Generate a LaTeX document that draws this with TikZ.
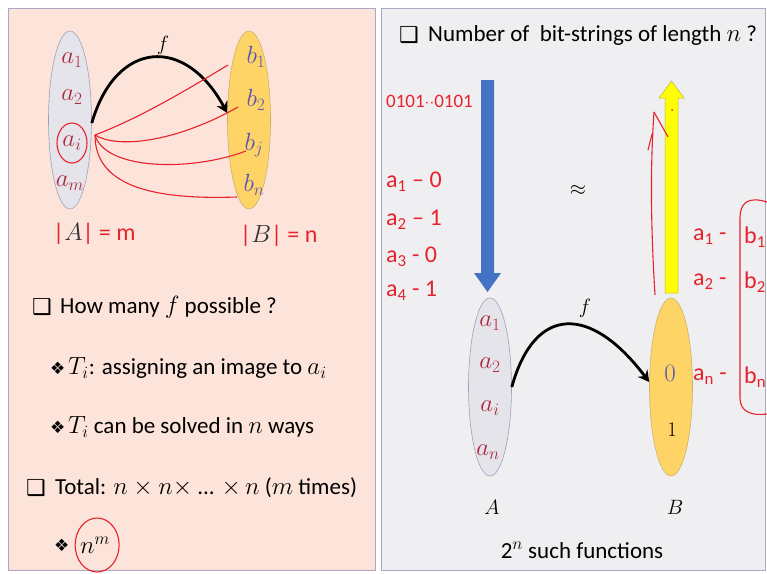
\documentclass[tikz,border=0pt]{standalone}
\usepackage{fontspec}
\setmainfont{Carlito}
\newfontfamily\symfont{DejaVu Sans}
\usepackage{tikz}
\usetikzlibrary{shapes.geometric, arrows.meta}

\definecolor{pinkbg}{HTML}{FDE4DA}
\definecolor{graybg}{HTML}{EFEFF2}
\definecolor{frameline}{HTML}{A9A9C2}
\definecolor{setgray}{HTML}{E4E4EA}
\definecolor{setgold}{HTML}{FFD466}
\definecolor{setedge}{HTML}{A0A0B8}
\definecolor{elemred}{HTML}{B0283C}
\definecolor{elempurple}{HTML}{5B55B5}
\definecolor{hand}{HTML}{E8222C}
\definecolor{barblue}{HTML}{4472C4}
\definecolor{baryellow}{HTML}{FFFF00}

\tikzset{
    panel/.style={draw=frameline, line width=0.8pt},
    setbox/.style={ellipse, minimum width=43pt, minimum height=178pt, inner sep=0pt, line width=0.6pt},
    setdom/.style={setbox, fill=setgray, draw=setedge},
    setcod/.style={setbox, fill=setgold, draw=setgold!60!gray},
    elem/.style={font=\fontsize{23}{23}\selectfont, text=elemred},
    imgel/.style={font=\fontsize{23}{23}\selectfont, text=elempurple},
    setname/.style={font=\fontsize{22}{22}\selectfont},
    fmap/.style={line width=2.8pt, -{Stealth[length=11pt, width=12pt]}},
    ink/.style={draw=hand, line width=1.1pt},
    inktext/.style={text=hand, font=\fontsize{24}{24}\selectfont, inner sep=0pt, anchor=west},
    textline/.style={anchor=west, inner sep=0pt, font=\fontsize{23}{23}\selectfont},
    boxsym/.style={anchor=west, inner sep=0pt, font=\symfont\fontsize{22}{22}\selectfont},
    diasym/.style={anchor=west, inner sep=0pt, font=\symfont\fontsize{17}{17}\selectfont}
}

\begin{document}
\begin{tikzpicture}[x=1pt, y=-1pt]
    \useasboundingbox (0,0) rectangle (767,573);
    \fill[white] (0,0) rectangle (767,573);
    % two slide panels
    \filldraw[panel, fill=pinkbg] (8,8) rectangle (375,570);
    \filldraw[panel, fill=graybg] (381,8) rectangle (765,570);

    % left: f from A (m elements) to B (n elements)
    \node (setA) [setdom] at (70,120) {};
    \node (setB) [setcod] at (249,120) {};
    \node (a1) [elem] at (72,60) {$a_1$};
    \node (a2) [elem] at (72,97) {$a_2$};
    \node (ai) [elem] at (72,143) {$a_i$};
    \node (am) [elem] at (70,183) {$a_m$};
    \node (b1) [imgel] at (256,57) {$b_1$};
    \node (b2) [imgel] at (256,100) {$b_2$};
    \node (bj) [imgel] at (254,145) {$b_j$};
    \node (bn) [imgel] at (254,185) {$b_n$};
    \node (fleft) [setname] at (163,45) {$f$};
    \draw [fmap] ([yshift=-3pt]setA.east) .. controls +(24,-83) and +(-42,-78) .. ([yshift=7pt]setB.west);

    % handwritten choices for a_i
    \coordinate (aiout) at (95,135);
    \coordinate (b1in) at (228,65);
    \coordinate (b2in) at (238,107);
    \coordinate (bjin) at (246,151);
    \coordinate (bnin) at (237,197);
    \draw [ink] (aiout) .. controls (140,118) and (190,88) .. (b1in);
    \draw [ink] (aiout) .. controls (120,150) and (180,140) .. (b2in);
    \draw [ink] (aiout) .. controls (105,170) and (190,172) .. (bjin);
    \draw [ink] (aiout) .. controls (95,185) and (150,200) .. (bnin);
    \draw [ink] (ai) ellipse [x radius=15pt, y radius=20pt];
    \node (cardA) [inktext] at (53,234) {|\textcolor{black!80}{$A$}| = m};
    \node (cardB) [inktext] at (240,236) {|\textcolor{black!80}{$B$}| = n};

    % left text
    \node (q1box) [boxsym] at (32,307) {❑};
    \node (q1) [textline] at (60,307) {How many $f$ possible ?};
    \node (t1sym) [diasym] at (50,368) {❖};
    \node (t1) [textline] at (68,368) {$T_i$: assigning an image to $a_i$};
    \node (t2sym) [diasym] at (50,427) {❖};
    \node (t2) [textline] at (68,427) {$T_i$ can be solved in $n$ ways};
    \node (q2box) [boxsym] at (26,488) {❑};
    \node (q2) [textline] at (55,488) {Total: $n \times n \times$ ... $\times\,n$ ($m$ times)};
    \node (t3sym) [diasym] at (54,545) {❖};
    \node (t3) [textline] at (80,545) {$n^m$};
    \draw [ink] ([xshift=2pt]t3.center) ellipse [x radius=22pt, y radius=27pt];

    % right: bit-strings as functions A -> {0,1}
    \node (q3box) [boxsym] at (399,35) {❑};
    \node (q3) [textline] at (428,35) {Number of\ \ bit-strings of length $n$ ?};
    \fill [barblue] (481,80) -- (494,80) -- (494,273) -- (501,273) -- (487.5,292) -- (474,273) -- (481,273) -- cycle;
    \filldraw [fill=baryellow, draw=olive!60, line width=0.5pt] (665,293) -- (678,293) -- (678,98) -- (684,98) -- (671.5,81) -- (659,98) -- (665,98) -- cycle;
    \node (approx) [font=\fontsize{22}{22}\selectfont] at (578,190) {$\approx$};

    \node (setA2) [setdom] at (490,387) {};
    \node (setB2) [setcod] at (671,387) {};
    \node (a1r) [elem] at (490,323) {$a_1$};
    \node (a2r) [elem] at (490,365) {$a_2$};
    \node (air) [elem] at (490,408) {$a_i$};
    \node (anr) [elem] at (488,452) {$a_n$};
    \node (zero) [imgel] at (670,373) {$0$};
    \node (one) [setname] at (672,430) {$1$};
    \node (fright) [setname] at (585,308) {$f$};
    \draw [fmap] (setA2.east) .. controls +(23,-83) and +(-58,-77) .. ([yshift=5pt]setB2.west);
    \node (nameA) [setname] at (492,507) {$A$};
    \node (nameB) [setname] at (675,507) {$B$};
    \node (count) [font=\fontsize{23}{23}\selectfont] at (582,550) {2$^n$ such functions};

    % handwritten notes, right panel
    \node (bits) [inktext, font=\fontsize{19}{19}\selectfont] at (386,101) {0101$\cdot\cdot$0101};
    \node (pair1) [inktext] at (386,182) {a\textsubscript{1} -- 0};
    \node (pair2) [inktext] at (386,220) {a\textsubscript{2} -- 1};
    \node (pair3) [inktext] at (386,257) {a\textsubscript{3} - 0};
    \node (pair4) [inktext] at (386,291) {a\textsubscript{4} - 1};
    \node (map1) [inktext] at (693,237) {a\textsubscript{1} -};
    \node (map2) [inktext] at (693,282) {a\textsubscript{2} -};
    \node (mapn) [inktext] at (693,377) {a\textsubscript{n} -};
    \node (img1) [inktext] at (744,237) {b\textsubscript{1}};
    \node (img2) [inktext] at (744,282) {b\textsubscript{2}};
    \node (imgn) [inktext] at (744,377) {b\textsubscript{n}};
    \draw [ink] (767,202) .. controls (748,196) and (740,203) .. (740,218) -- (740,398) .. controls (740,412) and (752,416) .. (767,414);
    \draw [ink] (655,295) .. controls (651,230) and (650,170) .. (654,112);
    \draw [ink] (654,112) -- (668,137);
    \draw [ink] (648,150) -- (652,134);
    \fill [hand] (672,110) circle (1pt);
\end{tikzpicture}
\end{document}
